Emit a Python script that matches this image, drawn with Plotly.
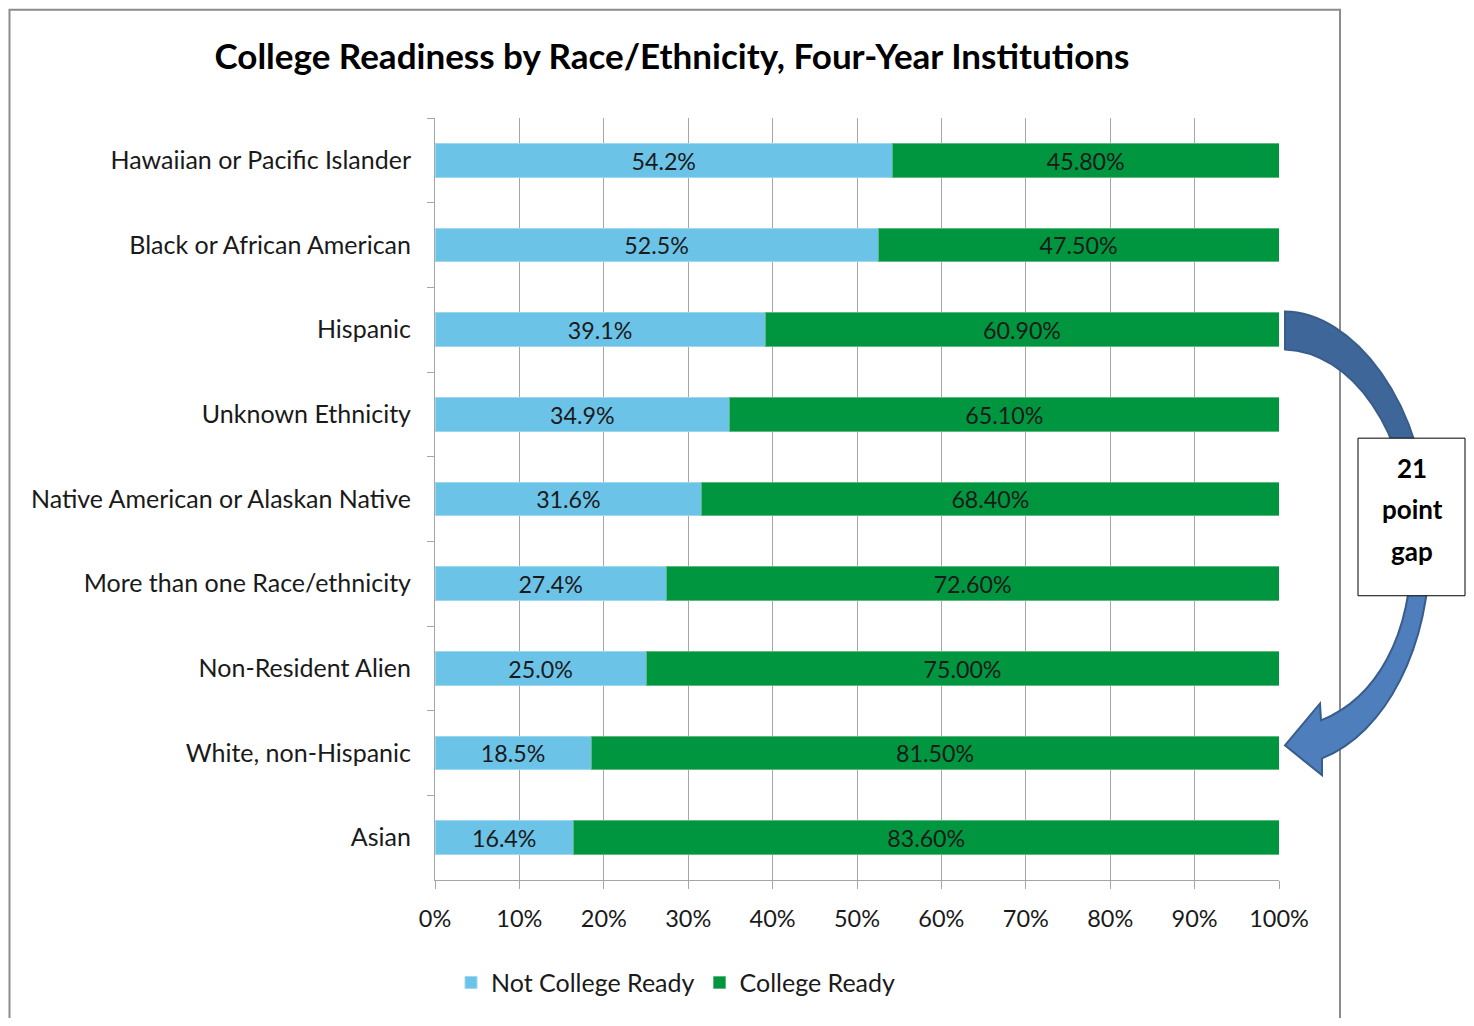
import plotly.graph_objects as go

categories = [
    "Hawaiian or Pacific Islander",
    "Black or African American",
    "Hispanic",
    "Unknown Ethnicity",
    "Native American or Alaskan Native",
    "More than one Race/ethnicity",
    "Non-Resident Alien",
    "White, non-Hispanic",
    "Asian",
]
not_ready = [54.2, 52.5, 39.1, 34.9, 31.6, 27.4, 25.0, 18.5, 16.4]
ready = [45.8, 47.5, 60.9, 65.1, 68.4, 72.6, 75.0, 81.5, 83.6]
x_ticks = [0, 10, 20, 30, 40, 50, 60, 70, 80, 90, 100]
x_tick_labels = [f"{t}%" for t in x_ticks]

OFF = 8  # page body margin
W, H = 1474 - 2 * OFF, 1026 - 2 * OFF
L, R, T, B = 435, 1279, 118, 882
FONT = "Lato"


def px(x):
    return (x - L) / (R - L)


def py(y):
    return (B - y) / (B - T)


fig = go.Figure()
fig.add_trace(go.Bar(
    y=categories, x=not_ready, orientation="h", name="Not College Ready",
    marker=dict(color="#6CC3E8", line=dict(color="#9FD7EF", width=1)),
    text=[f"{v:.1f}%" for v in not_ready], textposition="inside",
    insidetextanchor="middle", textangle=0,
    textfont=dict(color="#1a1a1a", size=25, family=FONT),
))
fig.add_trace(go.Bar(
    y=categories, x=ready, orientation="h", name="College Ready",
    marker=dict(color="#00963F", line=dict(color="#5DB97F", width=1)),
    text=[f"{v:.2f}%" for v in ready], textposition="inside",
    insidetextanchor="middle", textangle=0,
    textfont=dict(color="#1a1a1a", size=25, family=FONT),
))

shapes = []
# outer chart border
shapes.append(dict(type="rect", xref="paper", yref="paper",
                   x0=px(9.5), x1=px(1340), y0=py(9.5), y1=py(1040),
                   line=dict(color="#8c8c8c", width=2), fillcolor="rgba(0,0,0,0)", layer="below"))


def pt(x, y):
    return f"{px(x):.5f},{py(y):.5f}"


arrow_top = (
    f"M {pt(1285,312)} "
    f"C {pt(1350,312)} {pt(1428,400)} {pt(1430,540)} "
    f"L {pt(1412,545)} "
    f"C {pt(1410,430)} {pt(1350,352)} {pt(1285,350)} Z"
)
arrow_bottom = (
    f"M {pt(1430,540)} "
    f"C {pt(1431,650)} {pt(1385,735)} {pt(1322,760)} "
    f"L {pt(1322,777)} L {pt(1285,747)} L {pt(1320,705)} L {pt(1321,722)} "
    f"C {pt(1375,700)} {pt(1412,640)} {pt(1412,545)} Z"
)
shapes.append(dict(type="path", xref="paper", yref="paper", path=arrow_top,
                   fillcolor="#3F6698", line=dict(color="#385D8A", width=2)))
shapes.append(dict(type="path", xref="paper", yref="paper", path=arrow_bottom,
                   fillcolor="#4E7EBC", line=dict(color="#385D8A", width=2)))
# text box
shapes.append(dict(type="rect", xref="paper", yref="paper",
                   x0=px(1358), x1=px(1465), y0=py(439), y1=py(597),
                   fillcolor="white", line=dict(color="black", width=1)))

annotations = []
for word, yy in [("21", 469), ("point", 510), ("gap", 552)]:
    annotations.append(dict(xref="paper", yref="paper", x=px(1412), y=py(yy),
                            text=f"<b>{word}</b>", showarrow=False,
                            xanchor="center", yanchor="middle",
                            font=dict(family=FONT, size=26, color="black")))

fig.update_layout(
    width=W, height=H,
    margin=dict(l=L - OFF, r=W - (R - OFF), t=T - OFF, b=H - (B - OFF), pad=0),
    paper_bgcolor="white", plot_bgcolor="white",
    barmode="stack", bargap=0.6,
    font=dict(family=FONT, color="#1a1a1a", size=25),
    title=dict(text="<b>College Readiness by Race/Ethnicity, Four-Year Institutions</b>",
               x=(672 - OFF) / W, xref="container", xanchor="center",
               y=1 - (57 - OFF) / H, yref="container", yanchor="middle",
               font=dict(family=FONT, size=35, color="black")),
    xaxis=dict(range=[0, 100], tickvals=x_ticks, ticktext=x_tick_labels,
               showgrid=True, gridcolor="#A6A6A6", gridwidth=1,
               showline=True, linecolor="#A6A6A6", linewidth=1,
               ticks="outside", ticklen=8, tickcolor="#A6A6A6",
               ticklabelstandoff=10,
               tickfont=dict(size=23.5, family=FONT, color="#1a1a1a"),
               zeroline=False, fixedrange=True),
    yaxis=dict(type="category", categoryorder="array", categoryarray=categories,
               autorange="reversed", tickson="boundaries",
               showline=True, linecolor="#A6A6A6", linewidth=1,
               ticks="outside", ticklen=7, tickcolor="#A6A6A6",
               ticklabelstandoff=18, showgrid=False,
               tickfont=dict(size=25, family=FONT, color="#1a1a1a")),
    legend=dict(orientation="h", x=px(676), xanchor="center", y=py(985), yanchor="middle",
                font=dict(size=25, family=FONT, color="#1a1a1a"),
                itemwidth=30, traceorder="normal", bgcolor="rgba(0,0,0,0)"),
    shapes=shapes,
    annotations=annotations,
    uniformtext=dict(mode=False),
)

fig.write_html("out.html")
